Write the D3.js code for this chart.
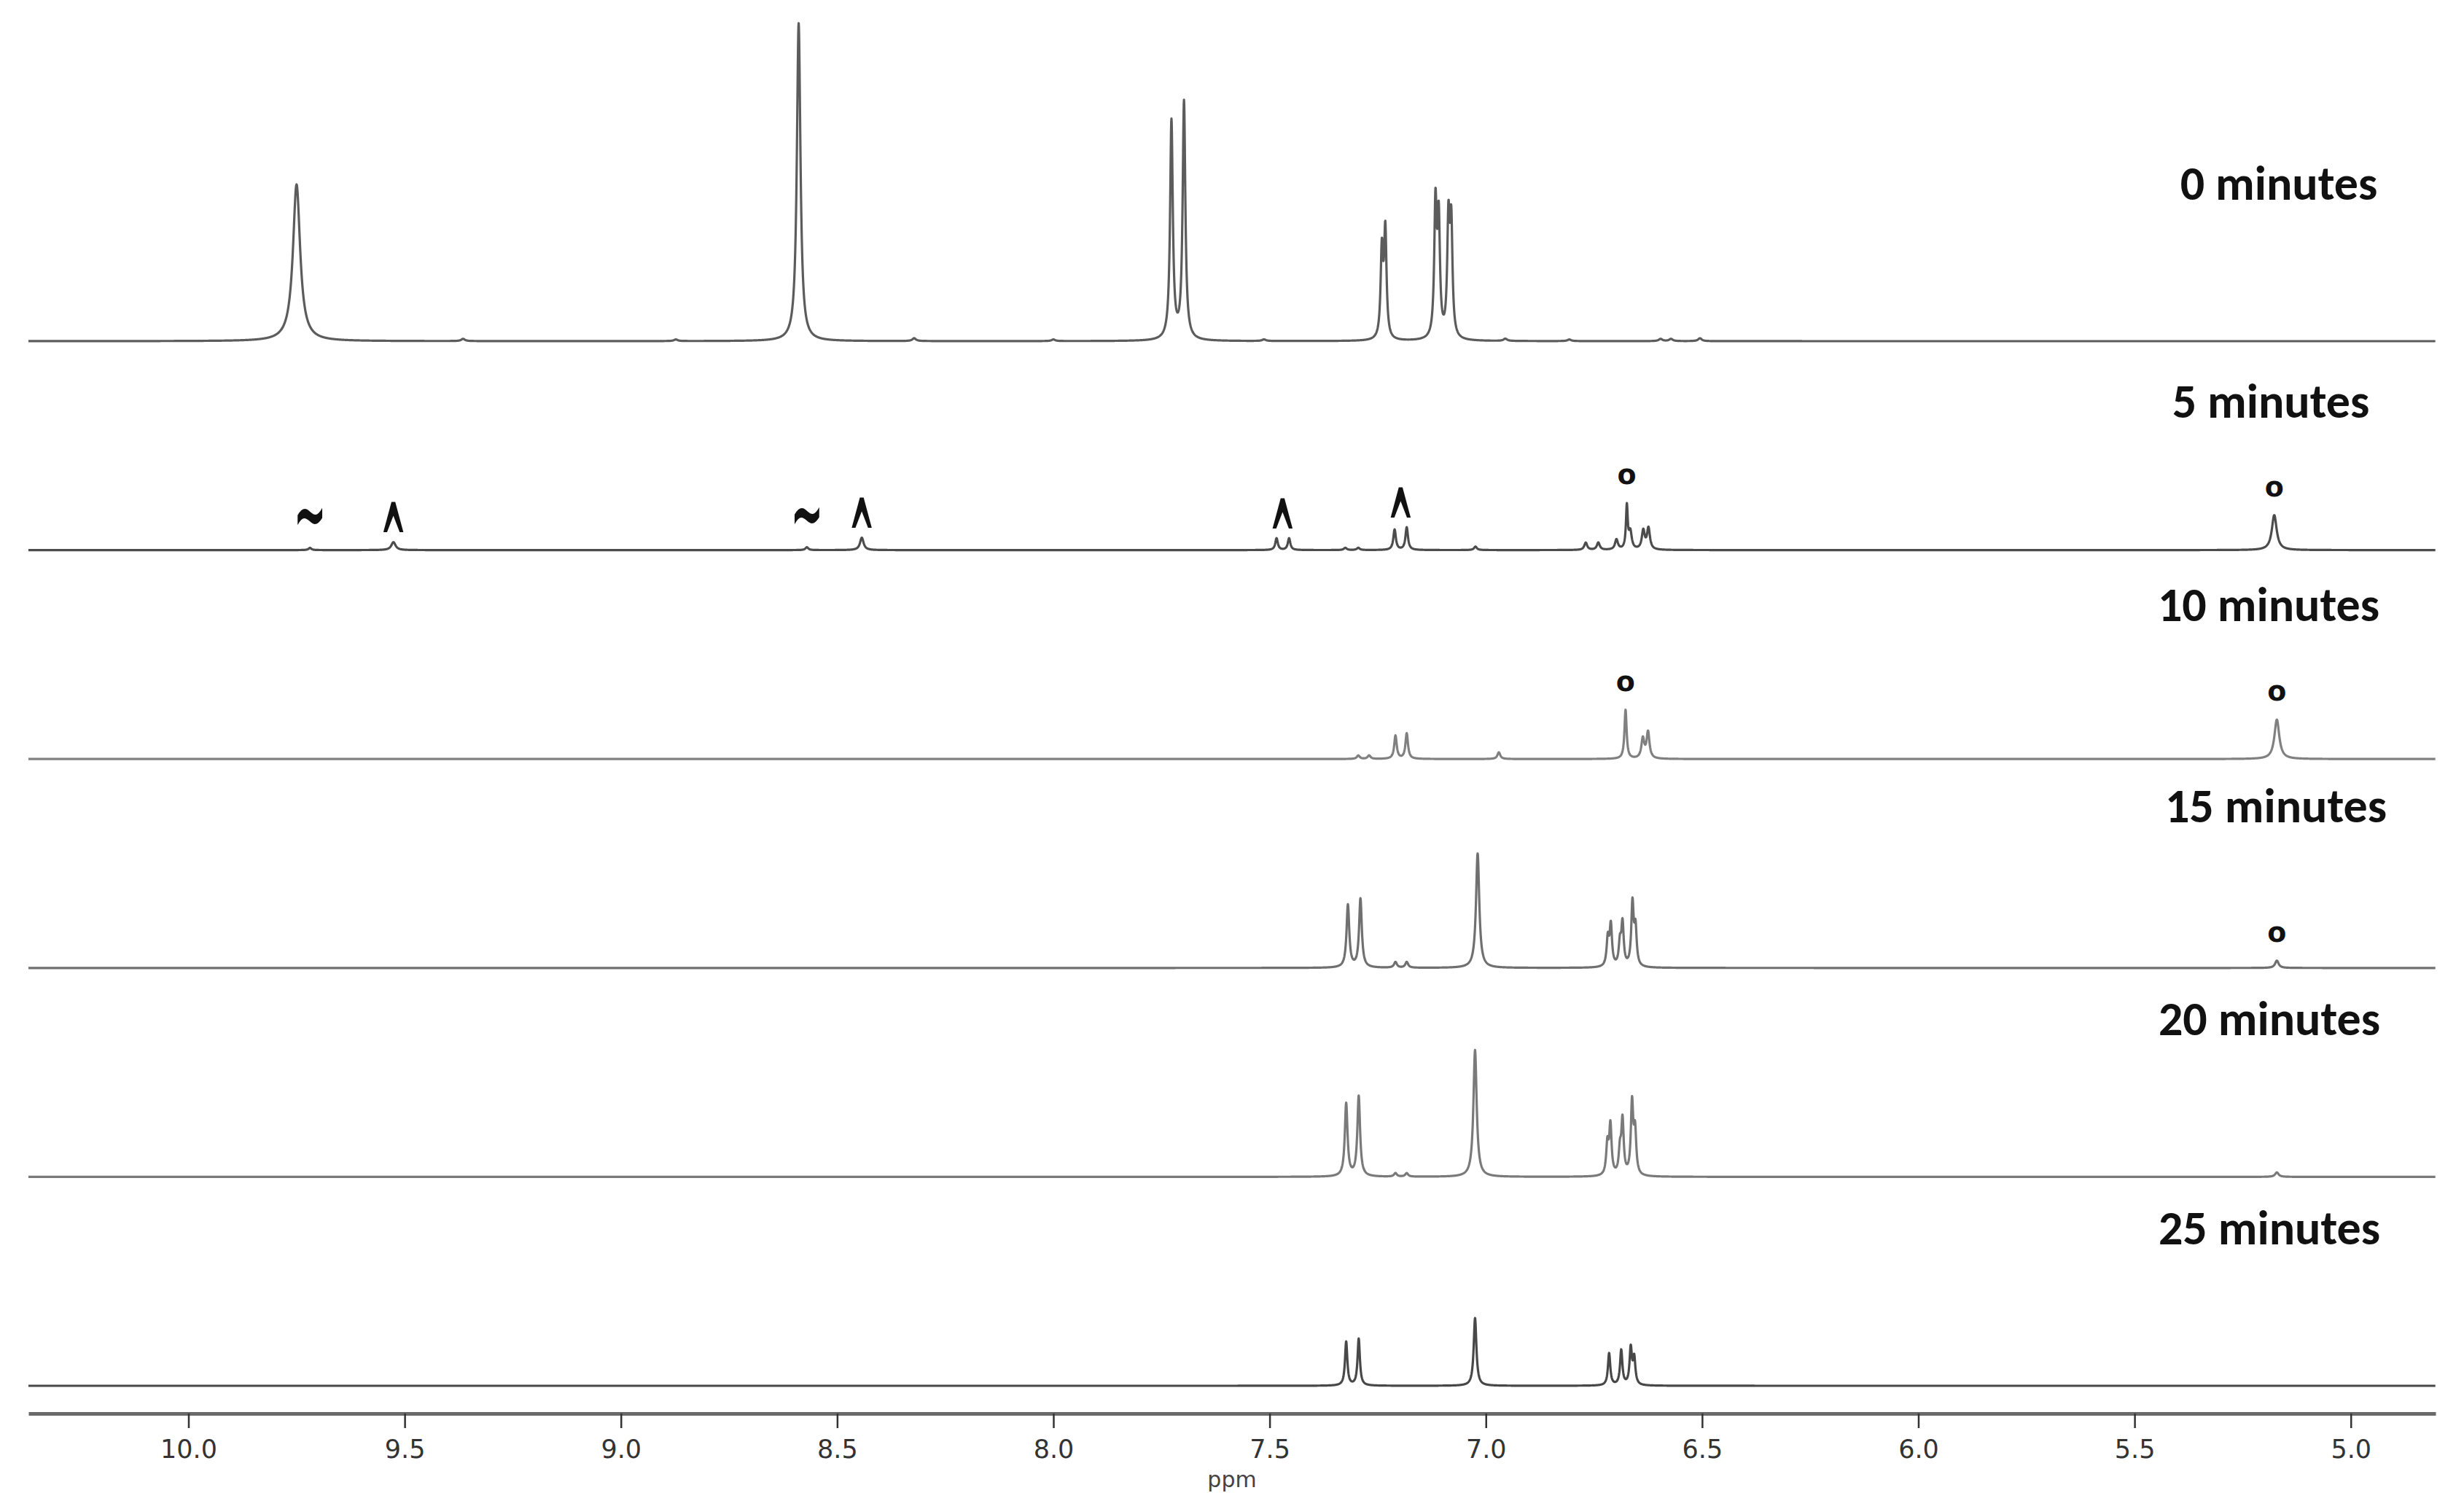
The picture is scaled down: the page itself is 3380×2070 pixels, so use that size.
<!DOCTYPE html>
<html>
<head>
<meta charset="utf-8">
<script src="https://cdn.jsdelivr.net/npm/d3@7"></script>
<style>
  html, body { margin: 0; padding: 0; background: #ffffff; }
  svg { display: block; }
</style>
</head>
<body>
<svg id="chart" width="3380" height="2070"></svg>
<script>
// ---------------- DATA ----------------
// Time points (one stacked spectrum each, top to bottom)
const timepoints = ["0 minutes", "5 minutes", "10 minutes", "15 minutes", "20 minutes", "25 minutes"];

// Axis ticks (ppm)
const tickValues = [10.0, 9.5, 9.0, 8.5, 8.0, 7.5, 7.0, 6.5, 6.0, 5.5, 5.0];
const axisTitle = "ppm";

// Peak lists: [shift (ppm), relative intensity (tallest = 100), line width FWHM (ppm)]
const spec0min = [
  [9.750, 49.3, 0.020],
  [9.365, 0.7, 0.010], [8.873, 0.5, 0.010],
  [8.589, 100, 0.010],
  [8.322, 0.9, 0.010], [8.000, 0.5, 0.010],
  [7.727, 68.8, 0.0075], [7.698, 74.8, 0.0075],
  [7.513, 0.5, 0.010],
  [7.2405, 27.4, 0.0067], [7.2325, 33.7, 0.0067],
  [7.1165, 41.5, 0.0067], [7.109, 36.0, 0.0067],
  [7.0865, 35.8, 0.0067], [7.080, 34.4, 0.0067],
  [6.955, 0.7, 0.010], [6.807, 0.5, 0.010],
  [6.596, 0.7, 0.010], [6.572, 0.7, 0.010], [6.505, 0.9, 0.010]
];
const spec5min = [
  [9.719, 0.7, 0.008], [9.526, 2.5, 0.012],
  [8.570, 0.9, 0.008], [8.443, 3.9, 0.010],
  [7.484, 3.7, 0.007], [7.455, 3.7, 0.007],
  [7.325, 0.7, 0.008], [7.295, 0.7, 0.008],
  [7.211, 6.4, 0.007], [7.183, 7.1, 0.007],
  [7.024, 1.1, 0.008],
  [6.769, 2.3, 0.008], [6.740, 2.3, 0.008], [6.698, 3.2, 0.008],
  [6.674, 13.5, 0.005], [6.666, 5.4, 0.008],
  [6.636, 5.9, 0.008], [6.624, 6.7, 0.008],
  [5.177, 11.0, 0.0135]
];
const spec10min = [
  [7.295, 1.1, 0.008], [7.270, 1.1, 0.008],
  [7.209, 7.3, 0.007], [7.183, 8.0, 0.007],
  [6.970, 2.1, 0.008],
  [6.677, 15.4, 0.006],
  [6.637, 6.2, 0.008], [6.625, 8.3, 0.008],
  [5.171, 12.4, 0.0135]
];
const spec15min = [
  [7.319, 19.7, 0.0075], [7.290, 21.6, 0.0075],
  [7.209, 1.8, 0.008], [7.183, 1.8, 0.008],
  [7.019, 36.0, 0.009],
  [6.718, 8.7, 0.0065], [6.711, 12.8, 0.0065],
  [6.690, 6.9, 0.0065], [6.684, 13.3, 0.0065],
  [6.661, 19.7, 0.0065], [6.654, 11.5, 0.0065],
  [5.171, 2.3, 0.010]
];
const spec20min = [
  [7.323, 22.9, 0.0075], [7.294, 25.2, 0.0075],
  [7.209, 1.1, 0.008], [7.183, 1.1, 0.008],
  [7.025, 39.9, 0.009],
  [6.719, 9.6, 0.0065], [6.712, 15.6, 0.0065],
  [6.690, 7.3, 0.0065], [6.684, 17.0, 0.0065],
  [6.662, 22.5, 0.0065], [6.655, 13.3, 0.0065],
  [5.171, 1.4, 0.010]
];
const spec25min = [
  [7.323, 13.8, 0.0065], [7.294, 14.7, 0.0065],
  [7.025, 21.3, 0.0075],
  [6.715, 10.1, 0.0065], [6.687, 11.0, 0.0065],
  [6.665, 11.5, 0.0065], [6.657, 8.3, 0.0065]
];
const spectra = [spec0min, spec5min, spec10min, spec15min, spec20min, spec25min];

// Peak markers: [spectrum index, shift (ppm), symbol]
const markers = [
  [1, 9.719, "~"], [1, 9.526, "^"], [1, 8.570, "~"], [1, 8.443, "^"],
  [1, 7.470, "^"], [1, 7.197, "^"], [1, 6.674, "o"], [1, 5.177, "o"],
  [2, 6.677, "o"], [2, 5.171, "o"],
  [3, 5.171, "o"]
];

// ---------------- LAYOUT / STYLE ----------------
const W = 3380, H = 2070;
const plotLeft = 39, plotRight = 3341;
const firstBaseline = 468, rowStep = 286.6;
const axisY = 1939;
const lineColors = ["#5c5c5c", "#4c4c4c", "#808080", "#707070", "#7a7a7a", "#484848"];
const labelCenterX = 3117, labelOffsetY = -194;
const labelDx = [9, -2, -5, 5, -4, -4];
const labelDy = [0, 12, 5, -6, 0, 0];
const markerGap = { "~": 44, "^": 32, "o": 36 };

const svg = d3.select("#chart");

const x = d3.scaleLinear().domain([10.370, 4.804]).range([plotLeft, plotRight]);
const h = d3.scaleLinear().domain([0, 100]).range([0, 436]);

// sampling grid across the spectral window
const grid = d3.range(10.370, 4.804, -0.0005);

function intensityAt(peaks, p) {
  let s = 0;
  for (const [c, a, w] of peaks) {
    const g = w / 2;
    const d = (p - c) / g;
    s += a / (1 + d * d);
  }
  return s;
}

const curves = spectra.map(peaks => grid.map(p => [p, intensityAt(peaks, p)]));

spectra.forEach((peaks, i) => {
  const base = firstBaseline + i * rowStep;
  const line = d3.line()
    .x(d => x(d[0]))
    .y(d => base - h(d[1]));
  svg.append("path")
    .datum(curves[i])
    .attr("d", line)
    .attr("fill", "none")
    .attr("stroke", lineColors[i])
    .attr("stroke-width", 3.2)
    .attr("stroke-linejoin", "round");

  svg.append("text")
    .attr("x", labelCenterX + labelDx[i])
    .attr("y", base + labelOffsetY + labelDy[i])
    .attr("text-anchor", "middle")
    .attr("font-family", "Carlito, Calibri, Lato, 'Open Sans', sans-serif")
    .attr("font-weight", 700)
    .attr("font-size", 66)
    .attr("fill", "#111")
    .text(timepoints[i]);
});

// markers above peaks
markers.forEach(([si, ppm, sym]) => {
  const base = firstBaseline + si * rowStep;
  const peakTop = d3.max(curves[si].filter(d => Math.abs(d[0] - ppm) < 0.02), d => d[1]);
  const cx = x(ppm);
  const cy = base - h(peakTop) - markerGap[sym];
  const g = svg.append("g").attr("transform", `translate(${cx},${cy})`);
  if (sym === "^") {
    g.append("text").attr("text-anchor", "middle").attr("dy", "0.58em")
      .attr("transform", "scale(0.8,2.8)")
      .attr("font-family", "'DejaVu Sans', sans-serif").attr("font-weight", 700)
      .attr("font-size", 54).attr("fill", "#111").text("^");
  } else if (sym === "~") {
    g.append("text").attr("text-anchor", "middle").attr("dy", "0.33em")
      .attr("transform", "scale(1,2.1)")
      .attr("font-family", "'DejaVu Sans', sans-serif").attr("font-weight", 700)
      .attr("font-size", 54).attr("fill", "#111").text("~");
  } else {
    g.append("text").attr("text-anchor", "middle").attr("dy", "0.27em")
      .attr("font-family", "'DejaVu Sans', sans-serif").attr("font-weight", 700)
      .attr("font-size", 38).attr("fill", "#111").text("o");
  }
});

// x axis
const axis = d3.axisBottom(x)
  .tickValues(tickValues)
  .tickFormat(d3.format(".1f"))
  .tickSize(20)
  .tickSizeOuter(0)
  .tickPadding(16);

const gAxis = svg.append("g").attr("transform", `translate(0,${axisY})`).call(axis);
gAxis.select(".domain").attr("stroke", "#6a6a6a").attr("stroke-width", 5);
gAxis.selectAll(".tick line").attr("stroke", "#333").attr("stroke-width", 2.5);
gAxis.selectAll(".tick text")
  .attr("font-family", "'DejaVu Sans', Verdana, sans-serif")
  .attr("font-size", 35)
  .attr("fill", "#333");

svg.append("text")
  .attr("x", (plotLeft + plotRight) / 2)
  .attr("y", 2040)
  .attr("text-anchor", "middle")
  .attr("font-family", "'DejaVu Sans', Verdana, sans-serif")
  .attr("font-size", 30)
  .attr("fill", "#444")
  .text(axisTitle);
</script>
</body>
</html>
